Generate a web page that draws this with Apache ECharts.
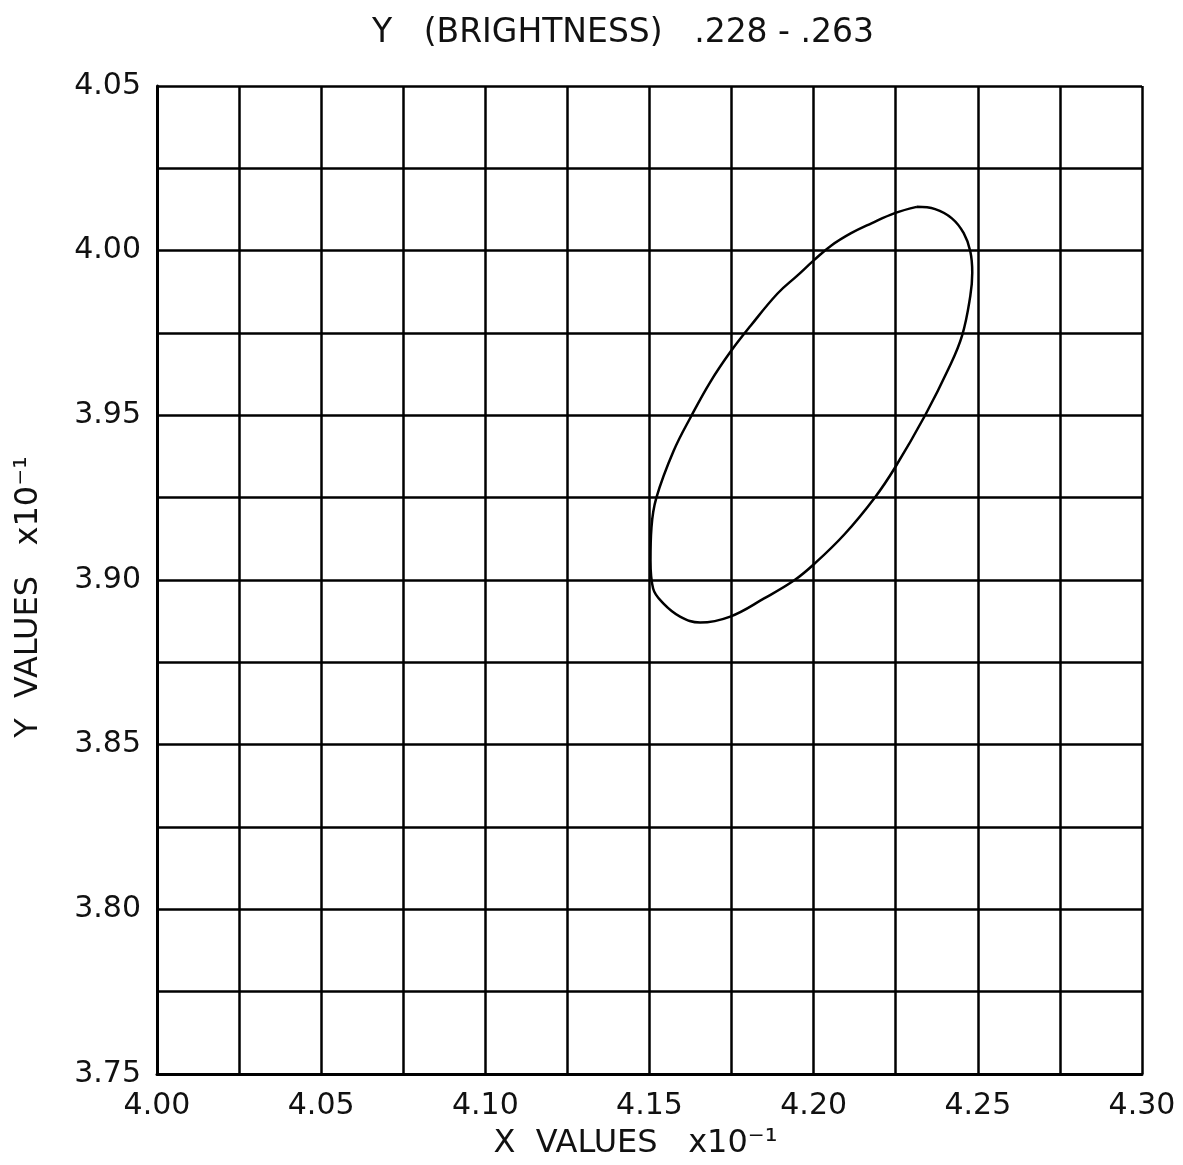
<!DOCTYPE html>
<html>
<head>
<meta charset="utf-8">
<script src="https://cdn.jsdelivr.net/npm/echarts@6/dist/echarts.min.js"></script>
<style>
html,body{margin:0;padding:0;background:#fff;}
#chart{width:1183px;height:1165px;}
</style>
</head>
<body>
<div id="chart"></div>
<script>
const titleText = "Y   (BRIGHTNESS)   .228 - .263";
const xAxisTitle = "X  VALUES   x10⁻¹";
const yAxisTitle = "Y  VALUES   x10⁻¹";
const xTickLabels = ["4.00","4.05","4.10","4.15","4.20","4.25","4.30"];
const yTickLabels = ["3.75","3.80","3.85","3.90","3.95","4.00","4.05"];
// contour traced clockwise from the top
const ellipseX = [4.2314,4.2370,4.2421,4.2457,4.2477,4.2483,4.2477,4.2452,4.2411,4.2340,4.2247,4.2186,4.2094,4.2002,4.1941,4.1849,4.1746,4.1654,4.1593,4.1542,4.1511,4.1503,4.1506,4.1521,4.1573,4.1629,4.1685,4.1746,4.1808,4.1890,4.1951,4.2002,4.2053,4.2114,4.2176,4.2247,4.2314];
const ellipseY = [4.0133,4.0126,4.0098,4.0053,3.9998,3.9933,3.9862,3.9742,3.9642,3.9501,3.9340,3.9250,3.9139,3.9049,3.8999,3.8944,3.8889,3.8871,3.8889,3.8929,3.8974,3.9059,3.9160,3.9250,3.9391,3.9501,3.9601,3.9692,3.9772,3.9870,3.9925,3.9972,4.0015,4.0053,4.0083,4.0114,4.0133];

const FONT = "DejaVu Sans";
const chart = echarts.init(document.getElementById('chart'), null, {renderer:'canvas'});
const fmt = (labels) => (v) => {
  const s = v.toFixed(2);
  return labels.indexOf(s) >= 0 ? s : '';
};
chart.setOption({
  backgroundColor:'#fff',
  animation:false,
  title:{
    text:titleText, left:618, top:12, textAlign:'center',
    textStyle:{fontFamily:FONT,fontSize:33,fontWeight:'normal',color:'#111'}
  },
  grid:{left:157,right:41,top:86,bottom:87,show:false},
  xAxis:{
    type:'value',min:4.00,max:4.30,interval:0.025,
    name:xAxisTitle,nameLocation:'middle',nameGap:54,
    nameTextStyle:{fontFamily:FONT,fontSize:32,color:'#111',padding:[0,28,0,0]},
    axisLine:{show:true,lineStyle:{color:'#000',width:3}},
    axisTick:{show:false},
    axisLabel:{formatter:fmt(xTickLabels),fontFamily:FONT,fontSize:30,color:'#111',margin:17,showMinLabel:true,showMaxLabel:true},
    splitLine:{show:true,lineStyle:{color:'#000',width:2.5}}
  },
  yAxis:{
    type:'value',min:3.75,max:4.05,interval:0.025,
    name:yAxisTitle,nameLocation:'middle',nameGap:112,nameRotate:90,
    nameTextStyle:{fontFamily:FONT,fontSize:32,color:'#111',padding:[0,34,0,0]},
    axisLine:{show:true,lineStyle:{color:'#000',width:3}},
    axisTick:{show:false},
    axisLabel:{formatter:fmt(yTickLabels),fontFamily:FONT,fontSize:30,color:'#111',margin:16,showMinLabel:true,showMaxLabel:true},
    splitLine:{show:true,lineStyle:{color:'#000',width:2.5}}
  },
  series:[{
    type:'line',
    data:ellipseX.map((x,i)=>[x,ellipseY[i]]),
    smooth:0.4,
    symbol:'none',
    lineStyle:{color:'#000',width:2.5},
    z:5
  }]
});
</script>
</body>
</html>
